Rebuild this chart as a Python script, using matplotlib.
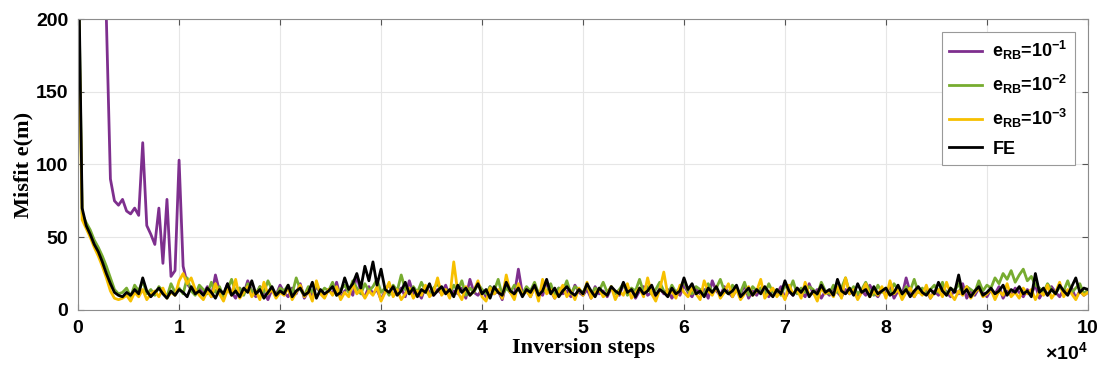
import numpy as np
import matplotlib
matplotlib.use('Agg')
import matplotlib.pyplot as plt

plt.rcParams['font.family'] = 'Liberation Sans'
plt.rcParams['font.weight'] = 'bold'
plt.rcParams['mathtext.fontset'] = 'custom'
plt.rcParams['mathtext.rm'] = 'Liberation Sans:bold'
plt.rcParams['mathtext.bf'] = 'Liberation Sans:bold'
plt.rcParams['mathtext.it'] = 'Liberation Sans:bold'
plt.rcParams['mathtext.default'] = 'bf'

## ---- misfit curves, sampled every 400 inversion steps ---- ##
steps = np.arange(0, 100001, 400)

rb1 = [400, 380, 350, 320, 290, 260, 230, 200, 90, 75, 72,
       76, 68, 66, 70, 65, 115, 58, 52, 45, 70, 32, 76, 23, 27, 103, 30, 18, 14, 12, 15,
       11, 16, 9, 24, 13, 10, 18, 12, 8, 15, 11, 20, 13, 9, 16, 12, 7, 14, 10, 17,
       12, 9, 15, 11, 18, 8, 13, 10, 16, 12, 9, 14, 11, 19, 8, 13, 15, 10, 24, 12,
       9, 16, 11, 14, 7, 13, 18, 10, 12, 15, 9, 20, 11, 13, 8, 16, 12, 10, 14, 11,
       17, 9, 13, 11, 15, 8, 21, 12, 10, 14, 9, 16, 11, 13, 7, 18, 12, 10, 28, 11,
       14, 9, 16, 12, 10, 19, 13, 8, 15, 11, 13, 9, 17, 12, 10, 14, 8, 16, 11, 13,
       9, 15, 12, 10, 18, 11, 14, 8, 13, 16, 10, 12, 9, 15, 11, 14, 8, 13, 10, 17,
       12, 9, 15, 11, 14, 8, 20, 13, 10, 16, 12, 9, 14, 11, 17, 8, 13, 10, 15, 12,
       9, 14, 11, 16, 8, 13, 10, 15, 12, 9, 18, 11, 14, 8, 13, 10, 16, 12, 9, 14,
       11, 15, 8, 13, 10, 17, 12, 9, 14, 11, 16, 8, 13, 10, 22, 12, 9, 15, 11, 14,
       8, 13, 10, 16, 12, 9, 14, 11, 18, 8, 13, 10, 15, 12, 9, 14, 11, 16, 8, 13,
       10, 15, 12, 9, 14, 11, 17, 8, 13, 10, 16, 12, 9, 14, 11, 15, 8, 13, 10, 12]

rb2 = [250, 66, 60, 55, 48, 43, 37, 30, 22, 14, 11,
       12, 15, 9, 17, 13, 20, 11, 14, 10, 16, 13, 9, 18, 12, 15, 11, 22, 13, 10, 17,
       14, 11, 19, 12, 16, 9, 14, 21, 12, 15, 10, 18, 13, 11, 16, 12, 20, 14, 10, 15,
       13, 17, 11, 22, 14, 10, 16, 12, 18, 11, 15, 13, 19, 10, 14, 17, 12, 20, 15, 11,
       18, 13, 16, 21, 12, 15, 10, 17, 13, 24, 14, 11, 16, 12, 19, 13, 10, 15, 18, 12,
       14, 11, 17, 13, 20, 10, 15, 12, 18, 14, 11, 16, 13, 21, 10, 15, 12, 17, 14, 11,
       16, 13, 19, 11, 14, 12, 18, 10, 15, 13, 20, 11, 16, 14, 12, 17, 10, 15, 13, 19,
       12, 16, 11, 14, 18, 10, 15, 13, 21, 12, 16, 11, 14, 19, 13, 10, 17, 12, 15, 20,
       13, 11, 16, 14, 10, 18, 12, 15, 21, 13, 11, 17, 14, 12, 19, 10, 16, 13, 15, 11,
       18, 12, 14, 10, 17, 13, 20, 11, 15, 12, 16, 14, 10, 19, 13, 11, 17, 12, 15, 22,
       12, 16, 11, 14, 19, 13, 10, 17, 12, 15, 11, 18, 14, 10, 16, 13, 21, 12, 15, 11,
       14, 17, 12, 19, 10, 15, 13, 18, 11, 16, 14, 12, 20, 13, 17, 15, 22, 18, 25, 21,
       27, 19, 24, 28, 20, 23, 17, 15, 12, 18, 14, 11, 16, 13, 20, 12, 15, 18, 11, 14]

rb3 = [230, 62, 56, 50, 43, 37, 30, 22, 13, 8, 7,
       8, 10, 6, 12, 9, 14, 7, 11, 13, 9, 15, 8, 12, 10, 20, 25, 18, 22, 14, 10,
       7, 13, 9, 18, 11, 6, 14, 10, 21, 8, 12, 16, 9, 13, 7, 19, 11, 14, 8, 12,
       10, 15, 7, 12, 17, 9, 13, 6, 20, 11, 8, 14, 10, 16, 7, 12, 9, 18, 11, 14,
       8, 13, 10, 16, 6, 12, 19, 9, 14, 7, 11, 15, 8, 13, 10, 17, 9, 12, 22, 10,
       14, 8, 33, 12, 7, 16, 10, 13, 20, 9, 6, 15, 11, 14, 8, 24, 12, 7, 18, 10,
       13, 9, 16, 6, 21, 11, 14, 8, 12, 17, 9, 13, 7, 15, 10, 19, 8, 12, 14, 9,
       11, 16, 7, 13, 10, 18, 8, 12, 15, 9, 22, 11, 6, 14, 26, 10, 13, 8, 17, 12,
       9, 15, 11, 7, 20, 13, 10, 16, 8, 12, 18, 9, 14, 7, 11, 16, 10, 13, 21, 8,
       12, 15, 9, 13, 7, 17, 11, 14, 8, 19, 10, 12, 6, 15, 11, 13, 9, 16, 8, 22,
       11, 14, 7, 12, 18, 9, 13, 10, 16, 8, 20, 11, 14, 7, 12, 15, 9, 13, 10, 17,
       8, 12, 14, 9, 19, 11, 7, 13, 10, 16, 8, 12, 15, 9, 11, 14, 7, 13, 10, 18,
       9, 12, 8, 15, 11, 14, 7, 13, 10, 17, 8, 12, 19, 9, 14, 11, 7, 13, 10, 12]

fe = [260, 70, 58, 52, 45, 40, 33, 25, 18, 12, 10,
      9, 12, 10, 14, 11, 22, 13, 9, 12, 15, 11, 8, 13, 10, 14, 12, 9, 16, 11, 13,
      10, 15, 12, 8, 14, 11, 18, 10, 13, 9, 15, 12, 20, 11, 14, 8, 12, 16, 10, 13,
      11, 17, 9, 13, 15, 10, 12, 19, 8, 14, 11, 13, 16, 10, 12, 22, 14, 18, 25, 15,
      30, 20, 33, 17, 28, 14, 12, 16, 10, 13, 19, 11, 15, 9, 14, 12, 18, 10, 13, 16,
      11, 14, 9, 17, 12, 15, 10, 13, 18, 11, 14, 8, 16, 12, 10, 19, 13, 11, 15, 9,
      14, 12, 17, 10, 13, 21, 11, 15, 9, 13, 16, 12, 10, 14, 11, 18, 13, 9, 15, 12,
      10, 16, 13, 11, 19, 12, 14, 9, 15, 11, 13, 17, 10, 14, 12, 9, 15, 11, 13, 22,
      14, 18, 11, 13, 9, 15, 12, 16, 10, 14, 11, 13, 17, 9, 12, 15, 10, 14, 11, 16,
      12, 9, 14, 11, 20, 13, 10, 15, 12, 16, 9, 13, 11, 17, 12, 14, 10, 21, 13, 11,
      15, 10, 18, 12, 14, 9, 16, 11, 13, 15, 10, 12, 17, 11, 14, 9, 13, 16, 12, 10,
      14, 11, 19, 13, 10, 15, 12, 24, 11, 14, 9, 13, 16, 10, 12, 15, 11, 13, 17, 10,
      14, 12, 16, 11, 13, 9, 25, 12, 15, 10, 14, 11, 17, 13, 10, 16, 22, 12, 15, 14]

labels = [r'e$_{RB}$=10$^{-1}$', r'e$_{RB}$=10$^{-2}$', r'e$_{RB}$=10$^{-3}$', 'FE']
colors = ['#7E2F8E', '#77AC30', '#F7C000', 'black']

fig = plt.figure(figsize=(11, 3.68), dpi=100)
ax = fig.add_axes([0.071, 0.158, 0.918, 0.79])

for y, lab, c in zip([rb1, rb2, rb3, fe], labels, colors):
    ax.plot(steps, y, color=c, lw=2.0, label=lab)

ax.set_xlim(0, 100000)
ax.set_ylim(0, 200)
ax.set_xticks(np.arange(0, 100001, 10000))
ax.set_yticks(np.arange(0, 201, 50))
ax.ticklabel_format(style='sci', axis='x', scilimits=(4, 4), useMathText=True)
ax.xaxis.get_offset_text().set_fontsize(14)
ax.grid(True, color='#e6e6e6', lw=0.8)
ax.set_axisbelow(True)
ax.tick_params(direction='in', top=True, right=True, labelsize=14, length=4, color='#555555')
ax.tick_params(axis='x', pad=7)
ax.tick_params(axis='y', pad=7)
for s in ax.spines.values():
    s.set_color('#8c8c8c')
ax.set_xlabel('Inversion steps', fontsize=16, fontweight='bold', family='Liberation Serif', labelpad=1)
ax.set_ylabel('Misfit e(m)', fontsize=16, fontweight='bold', family='Liberation Serif', labelpad=2)

leg = ax.legend(loc='upper right', fontsize=13, fancybox=False, framealpha=1,
                edgecolor='#999999', handlelength=1.8, handletextpad=0.6,
                labelspacing=0.6, borderaxespad=0.7)
leg.get_frame().set_linewidth(0.8)

plt.savefig('out.png', dpi=100)
